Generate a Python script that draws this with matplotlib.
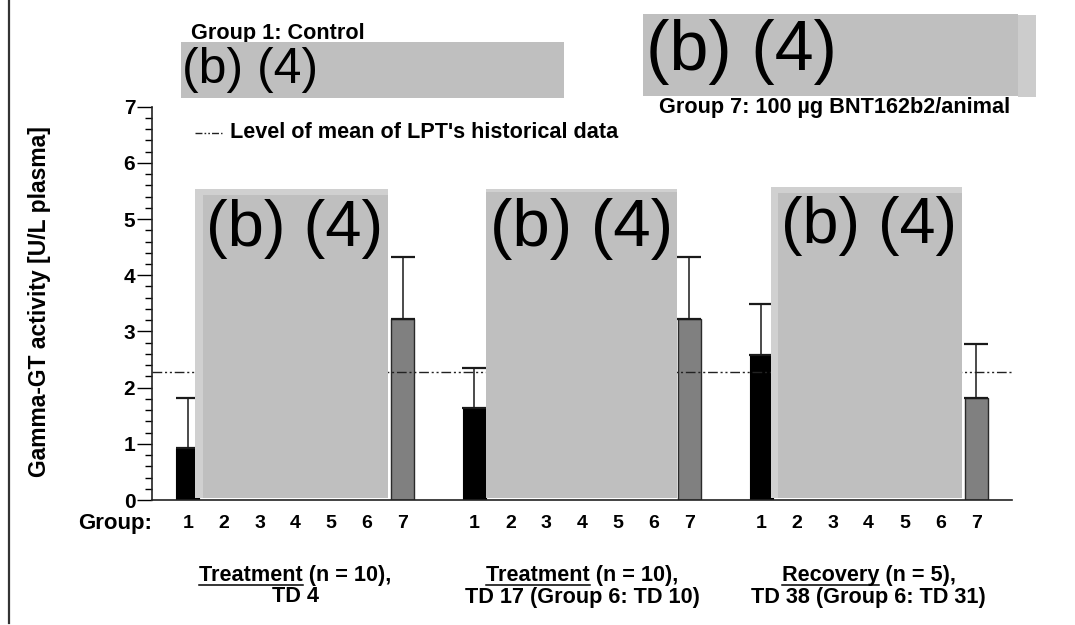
import matplotlib
matplotlib.use("Agg")
import matplotlib.pyplot as plt
import matplotlib.transforms as mtransforms
from matplotlib.lines import Line2D
from matplotlib.patches import Rectangle
from matplotlib.ticker import MultipleLocator

plt.rcParams['font.family'] = ['Liberation Sans', 'DejaVu Sans']

# data
groups = [1, 2, 3, 4, 5, 6, 7]
periods = ["Treatment", "Treatment", "Recovery"]
period_n = [" (n = 10),", " (n = 10),", " (n = 5),"]
period_days = ["TD 4", "TD 17 (Group 6: TD 10)", "TD 38 (Group 6: TD 31)"]
ctrl_mean = [0.93, 1.64, 2.58]     # group 1
ctrl_sd = [0.88, 0.71, 0.91]
g7_mean = [3.23, 3.23, 1.81]       # group 7
g7_sd = [1.09, 1.09, 0.97]
hist_mean = 2.28

W, H = 1075, 625
fig = plt.figure(figsize=(W / 100, H / 100), dpi=100)
FS = 15.6


def fx(px):
    return px / W


def fy(py):
    return 1 - py / H


ax = fig.add_axes([fx(152), fy(500), 860 / W, (500 - 106.7) / H])

# bar positions, 8 slots per block
x_ctrl = [8 * i + 1 for i in range(3)]
x_g7 = [8 * i + 7 for i in range(3)]
bw = 0.64

ax.bar(x_ctrl, ctrl_mean, width=bw, color='black', edgecolor='black', lw=0.8, zorder=2)
ax.bar(x_g7, g7_mean, width=bw, color='#808080', edgecolor='#2a2a2a', lw=1.0, zorder=2)
ax.errorbar(x_ctrl, ctrl_mean, yerr=[[0] * 3, ctrl_sd], fmt='none', ecolor='#1a1a1a',
            elinewidth=1.1, capsize=8.3, capthick=1.6, zorder=3)
ax.errorbar(x_g7, g7_mean, yerr=[[0] * 3, g7_sd], fmt='none', ecolor='#1a1a1a',
            elinewidth=1.1, capsize=8.3, capthick=1.6, zorder=3)

# historical mean
ax.axhline(hist_mean, color='#222222', lw=1.0, dashes=(7, 2, 1.5, 2, 1.5, 2), zorder=4)

ax.set_xlim(0, 24)
ax.set_ylim(0, 7)
for s in ['top', 'right']:
    ax.spines[s].set_visible(False)
ax.spines['left'].set_linewidth(1.2)
ax.spines['bottom'].set_linewidth(1.2)
ax.spines['left'].set_color('#222222')
ax.spines['bottom'].set_color('#222222')

ax.set_yticks(range(8))
ax.yaxis.set_minor_locator(MultipleLocator(0.2))
ax.tick_params(axis='y', which='major', length=11, width=1.0, pad=1, labelsize=15)
ax.tick_params(axis='y', which='minor', length=5, width=1.0)
for lab in ax.get_yticklabels():
    lab.set_fontweight('bold')

xpos = [8 * i + g for i in range(3) for g in groups]
ax.set_xticks(xpos)
ax.set_xticklabels([str(g) for i in range(3) for g in groups], fontsize=14, fontweight='bold')
ax.tick_params(axis='x', length=0, pad=11)

fig.text(fx(40), fy(302), "Gamma-GT activity [U/L plasma]", rotation=90, ha='center', va='center',
         fontsize=16.5, fontweight='bold')
fig.text(fx(152), fy(523), "Group:", ha='right', va='center', fontsize=16, fontweight='bold')

# block labels with underlined period
fig.canvas.draw()
renderer = fig.canvas.get_renderer()
trans = mtransforms.blended_transform_factory(ax.transData, fig.transFigure)
for i in range(3):
    xc = 8 * i + 4
    t1 = ax.text(xc, fy(575), periods[i] + period_n[i], transform=trans, ha='center', va='center',
                 fontsize=FS, fontweight='bold')
    ax.text(xc, fy(597), period_days[i], transform=trans, ha='center', va='center',
            fontsize=FS, fontweight='bold')
    bb = t1.get_window_extent(renderer)
    tmp = fig.text(0, 0, periods[i], fontsize=FS, fontweight='bold')
    wword = tmp.get_window_extent(renderer).width
    tmp.remove()
    fig.add_artist(Line2D([bb.x0 / W, (bb.x0 + wword) / W], [(bb.y0 + 1) / H] * 2,
                          color='black', lw=1.1, transform=fig.transFigure))

# legend
fig.add_artist(Line2D([fx(195), fx(222)], [fy(133)] * 2, color='#222222', lw=1.0,
                      dashes=(5, 1.5, 1.2, 1.5, 1.2, 1.5), transform=fig.transFigure))
fig.text(fx(230), fy(133), "Level of mean of LPT's historical data", ha='left', va='center',
         fontsize=FS, fontweight='bold')

fig.text(fx(191), fy(33), "Group 1: Control", ha='left', va='center', fontsize=FS, fontweight='bold')
fig.text(fx(1010), fy(107.5), "Group 7: 100 µg BNT162b2/animal", ha='right', va='center',
         fontsize=FS, fontweight='bold')

# page border line
fig.add_artist(Line2D([fx(9), fx(9)], [fy(0), fy(623)], color='#333333', lw=1.6,
                      transform=fig.transFigure))


def box(x0, y0, x1, y1, color):
    fig.add_artist(Rectangle((fx(x0), fy(y1)), fx(x1) - fx(x0), (y1 - y0) / H,
                             facecolor=color, edgecolor='none', transform=fig.transFigure,
                             zorder=10))


def redact_text(x, yc, size):
    fig.text(fx(x), fy(yc), "(b) (4)", ha='left', va='center', fontsize=size,
             family=['Liberation Sans', 'DejaVu Sans'], color='black', zorder=11)


# redaction boxes
box(181, 42, 564, 98, '#bfbfbf')
redact_text(182, 70, 36)
box(1018, 15, 1036, 97, '#cccccc')
box(643, 14, 1018, 96, '#bfbfbf')
redact_text(646, 52, 50.5)

box(195, 189, 388, 498, '#d0d0d0')
box(203, 195, 388, 498, '#bfbfbf')
redact_text(206, 229, 47)

box(486, 189, 677, 498, '#d0d0d0')
box(486, 192, 677, 498, '#bfbfbf')
redact_text(490, 229, 48.5)

box(771, 187, 962, 498, '#d0d0d0')
box(778, 193, 962, 498, '#bfbfbf')
redact_text(781, 226, 46.5)

fig.savefig("out.png", dpi=100)
